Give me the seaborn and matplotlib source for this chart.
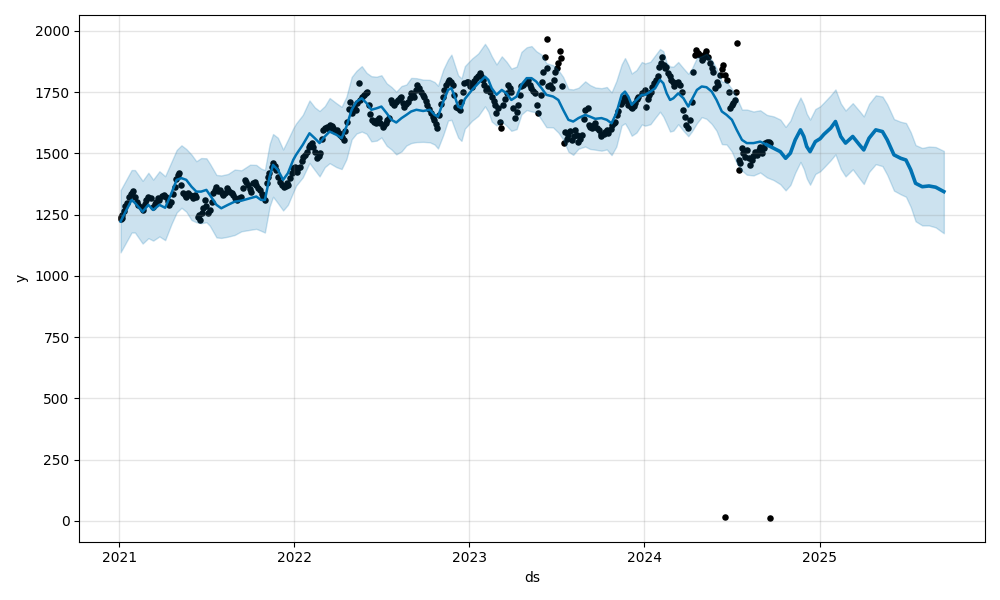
import matplotlib
matplotlib.use("Agg")
import matplotlib.pyplot as plt
import matplotlib.dates as mdates
from matplotlib.ticker import MultipleLocator
import pandas as pd
import seaborn as sns

# ---------------- observed data (ds, y) ----------------
obs_dates = [
    "2021-01-04", "2021-01-05", "2021-01-06", "2021-01-08", "2021-01-11", "2021-01-14", "2021-01-18", "2021-01-21",
    "2021-01-25", "2021-01-27", "2021-01-29", "2021-02-03", "2021-02-08", "2021-02-10", "2021-02-15", "2021-02-17",
    "2021-02-19", "2021-02-23", "2021-02-26", "2021-03-03", "2021-03-08", "2021-03-12", "2021-03-16", "2021-03-19",
    "2021-03-23", "2021-03-26", "2021-03-31", "2021-04-05", "2021-04-09", "2021-04-13", "2021-04-16", "2021-04-20",
    "2021-04-23", "2021-04-27", "2021-04-30", "2021-05-04", "2021-05-06", "2021-05-11", "2021-05-14", "2021-05-18",
    "2021-05-21", "2021-05-25", "2021-05-28", "2021-06-01", "2021-06-04", "2021-06-08", "2021-06-11", "2021-06-14",
    "2021-06-16", "2021-06-18", "2021-06-22", "2021-06-25", "2021-06-29", "2021-07-02", "2021-07-06", "2021-07-09",
    "2021-07-13", "2021-07-16", "2021-07-20", "2021-07-23", "2021-07-27", "2021-07-30", "2021-08-03", "2021-08-06",
    "2021-08-09", "2021-08-13", "2021-08-17", "2021-08-20", "2021-08-24", "2021-08-26", "2021-08-31", "2021-09-03",
    "2021-09-08", "2021-09-13", "2021-09-16", "2021-09-20", "2021-09-23", "2021-09-27", "2021-09-30", "2021-10-04",
    "2021-10-07", "2021-10-11", "2021-10-14", "2021-10-18", "2021-10-21", "2021-10-25", "2021-10-28", "2021-11-01",
    "2021-11-05", "2021-11-08", "2021-11-10", "2021-11-15", "2021-11-18", "2021-11-22", "2021-11-25", "2021-11-29",
    "2021-12-02", "2021-12-07", "2021-12-10", "2021-12-14", "2021-12-17", "2021-12-20", "2021-12-23", "2021-12-27",
    "2021-12-30",
    "2022-01-03", "2022-01-06", "2022-01-10", "2022-01-13", "2022-01-17", "2022-01-20", "2022-01-24", "2022-01-27",
    "2022-01-31", "2022-02-03", "2022-02-07", "2022-02-10", "2022-02-14", "2022-02-17", "2022-02-21", "2022-02-24",
    "2022-02-28", "2022-03-03", "2022-03-07", "2022-03-10", "2022-03-14", "2022-03-17", "2022-03-21", "2022-03-24",
    "2022-03-28", "2022-03-31", "2022-04-04", "2022-04-07", "2022-04-11", "2022-04-14", "2022-04-18", "2022-04-21",
    "2022-04-25", "2022-04-28", "2022-05-02", "2022-05-05", "2022-05-09", "2022-05-12", "2022-05-16", "2022-05-19",
    "2022-05-23", "2022-05-26", "2022-05-30", "2022-06-01", "2022-06-06", "2022-06-09", "2022-06-13", "2022-06-16",
    "2022-06-20", "2022-06-23", "2022-06-27", "2022-06-30", "2022-07-05", "2022-07-08", "2022-07-11", "2022-07-14",
    "2022-07-18", "2022-07-22", "2022-07-25", "2022-07-29", "2022-08-02", "2022-08-05", "2022-08-09", "2022-08-12",
    "2022-08-16", "2022-08-19", "2022-08-23", "2022-08-26", "2022-08-30", "2022-09-01", "2022-09-06", "2022-09-08",
    "2022-09-12", "2022-09-15", "2022-09-19", "2022-09-22", "2022-09-26", "2022-09-29", "2022-10-03", "2022-10-06",
    "2022-10-10", "2022-10-13", "2022-10-17", "2022-10-20", "2022-10-24", "2022-10-26", "2022-10-31", "2022-11-03",
    "2022-11-07", "2022-11-10", "2022-11-14", "2022-11-17", "2022-11-21", "2022-11-24", "2022-11-28", "2022-12-01",
    "2022-12-05", "2022-12-08", "2022-12-12", "2022-12-15", "2022-12-19", "2022-12-22", "2022-12-27", "2022-12-29",
    "2023-01-03", "2023-01-06", "2023-01-09", "2023-01-12", "2023-01-16", "2023-01-19", "2023-01-23", "2023-01-26",
    "2023-01-30", "2023-02-02", "2023-02-06", "2023-02-10", "2023-02-14", "2023-02-17", "2023-02-21", "2023-02-23",
    "2023-02-27", "2023-03-02", "2023-03-06", "2023-03-08", "2023-03-13", "2023-03-16", "2023-03-20", "2023-03-23",
    "2023-03-27", "2023-03-30", "2023-04-03", "2023-04-06", "2023-04-10", "2023-04-13", "2023-04-17", "2023-04-20",
    "2023-04-24", "2023-04-27", "2023-05-01", "2023-05-04", "2023-05-08", "2023-05-11", "2023-05-15", "2023-05-18",
    "2023-05-22", "2023-05-25", "2023-05-30", "2023-06-01", "2023-06-05", "2023-06-08", "2023-06-12", "2023-06-13",
    "2023-06-15", "2023-06-19", "2023-06-22", "2023-06-26", "2023-06-29", "2023-07-03", "2023-07-06", "2023-07-10",
    "2023-07-12", "2023-07-14", "2023-07-17", "2023-07-20", "2023-07-24", "2023-07-27", "2023-07-31", "2023-08-03",
    "2023-08-07", "2023-08-10", "2023-08-14", "2023-08-17", "2023-08-21", "2023-08-24", "2023-08-28", "2023-08-31",
    "2023-09-05", "2023-09-07", "2023-09-11", "2023-09-14", "2023-09-18", "2023-09-21", "2023-09-25", "2023-09-28",
    "2023-10-02", "2023-10-04", "2023-10-09", "2023-10-11", "2023-10-16", "2023-10-18", "2023-10-23", "2023-10-25",
    "2023-10-30", "2023-11-01", "2023-11-06", "2023-11-08", "2023-11-13", "2023-11-15", "2023-11-20", "2023-11-22",
    "2023-11-27", "2023-11-29", "2023-12-04", "2023-12-06", "2023-12-11", "2023-12-13", "2023-12-18", "2023-12-20",
    "2023-12-27",
    "2024-01-02", "2024-01-04", "2024-01-08", "2024-01-11", "2024-01-15", "2024-01-18", "2024-01-22", "2024-01-25",
    "2024-01-29", "2024-02-01", "2024-02-05", "2024-02-07", "2024-02-12", "2024-02-14", "2024-02-16", "2024-02-20",
    "2024-02-23", "2024-02-27", "2024-03-01", "2024-03-04", "2024-03-08", "2024-03-12", "2024-03-15", "2024-03-19",
    "2024-03-22", "2024-03-26", "2024-03-29", "2024-04-02", "2024-04-05", "2024-04-09", "2024-04-12", "2024-04-16",
    "2024-04-19", "2024-04-23", "2024-04-26", "2024-04-30", "2024-05-03", "2024-05-07", "2024-05-10", "2024-05-13",
    "2024-05-17", "2024-05-21", "2024-05-24", "2024-05-28", "2024-05-31", "2024-06-04", "2024-06-07", "2024-06-11",
    "2024-06-14", "2024-06-17", "2024-06-18", "2024-06-21", "2024-06-25", "2024-06-28", "2024-07-02", "2024-07-05",
    "2024-07-09", "2024-07-11", "2024-07-12", "2024-07-16", "2024-07-17", "2024-07-19", "2024-07-23", "2024-07-26",
    "2024-07-30", "2024-08-02", "2024-08-06", "2024-08-09", "2024-08-12", "2024-08-15", "2024-08-19", "2024-08-23",
    "2024-08-27", "2024-08-30", "2024-09-03", "2024-09-06", "2024-09-10", "2024-09-13", "2024-09-17", "2024-09-19",
    "2024-09-20",
]
obs_values = [
    1240, 1232, 1250, 1236, 1265, 1285, 1297, 1320,
    1335, 1340, 1345, 1324, 1300, 1290, 1282, 1276,
    1269, 1292, 1310, 1322, 1317, 1283, 1295, 1303,
    1318, 1310, 1326, 1331, 1324, 1305, 1290, 1300,
    1335, 1364, 1395, 1412, 1420, 1371, 1337, 1330,
    1324, 1340, 1331, 1325, 1317, 1330, 1324, 1242,
    1250, 1229, 1255, 1276, 1310, 1285, 1256, 1269,
    1300, 1337, 1350, 1364, 1345, 1351, 1340, 1330,
    1337, 1357, 1350, 1344, 1338, 1331, 1318, 1310,
    1318, 1324, 1360, 1392, 1385, 1371, 1355, 1344,
    1378, 1385, 1371, 1360, 1351, 1335, 1324, 1310,
    1380, 1405, 1419, 1445, 1460, 1450, 1433, 1405,
    1385, 1372, 1364, 1368, 1380, 1371, 1400, 1419,
    1440,
    1445, 1426, 1440, 1446, 1470, 1487, 1495, 1507,
    1525, 1535, 1542, 1525, 1507, 1480, 1490, 1501,
    1560, 1596, 1605, 1609, 1600, 1616, 1610, 1603,
    1590, 1596, 1585, 1576, 1565, 1555, 1590, 1630,
    1680, 1711, 1664, 1690, 1678, 1705, 1786, 1718,
    1730, 1739, 1745, 1752, 1698, 1660, 1637, 1630,
    1623, 1635, 1644, 1625, 1609, 1615, 1623, 1635,
    1644, 1718, 1705, 1698, 1710, 1718, 1725, 1732,
    1705, 1691, 1700, 1711, 1725, 1745, 1740, 1732,
    1760, 1780, 1765, 1752, 1740, 1732, 1715, 1698,
    1680, 1664, 1650, 1637, 1620, 1603, 1657, 1700,
    1732, 1760, 1780, 1792, 1800, 1790, 1780, 1740,
    1691, 1685, 1678, 1711, 1750, 1786, 1790, 1793,
    1776, 1770, 1786, 1795, 1807, 1815, 1827, 1815,
    1800, 1780, 1759, 1766, 1750, 1732, 1715, 1698,
    1664, 1684, 1630, 1603, 1698, 1720, 1745, 1780,
    1765, 1752, 1684, 1644, 1670, 1698, 1740, 1773,
    1780, 1786, 1795, 1800, 1780, 1766, 1755, 1745,
    1698, 1664, 1739, 1790, 1834, 1895, 1967, 1848,
    1773, 1780, 1766, 1800, 1834, 1850, 1868, 1916,
    1888, 1773, 1542, 1589, 1560, 1576, 1590, 1555,
    1570, 1596, 1575, 1548, 1560, 1576, 1640, 1678,
    1684, 1616, 1608, 1603, 1615, 1623, 1605, 1596,
    1580, 1569, 1578, 1589, 1595, 1582, 1600, 1616,
    1625, 1630, 1655, 1671, 1700, 1711, 1725, 1732,
    1712, 1698, 1690, 1684, 1695, 1705, 1720, 1732,
    1745,
    1759, 1691, 1720, 1740, 1752, 1770, 1786, 1800,
    1814, 1854, 1870, 1895, 1861, 1850, 1854, 1827,
    1815, 1800, 1790, 1773, 1786, 1790, 1780, 1752,
    1678, 1650, 1616, 1603, 1637, 1711, 1834, 1902,
    1922, 1910, 1902, 1880, 1888, 1905, 1916, 1895,
    1868, 1850, 1834, 1766, 1790, 1780, 1820, 1845,
    1861, 17, 1820, 1800, 1752, 1684, 1698, 1705,
    1718, 1752, 1952, 1473, 1433, 1460, 1521, 1500,
    1487, 1514, 1480, 1453, 1473, 1490, 1507, 1494,
    1515, 1528, 1501, 1520, 1542, 1548, 1548, 13,
    1542,
]

# ---------------- forecast (ds, yhat, yhat_lower, yhat_upper) ----------------
fc_dates = [
    "2021-01-04", "2021-01-27", "2021-02-03", "2021-02-19", "2021-03-03", "2021-03-13", "2021-03-26", "2021-04-07",
    "2021-04-20", "2021-05-01", "2021-05-11", "2021-05-21", "2021-06-01", "2021-06-11", "2021-06-21", "2021-07-02",
    "2021-07-09", "2021-07-23", "2021-08-02", "2021-08-16", "2021-08-30", "2021-09-13", "2021-10-01", "2021-10-14",
    "2021-10-24", "2021-11-01", "2021-11-11", "2021-11-18", "2021-11-28", "2021-12-09", "2021-12-19", "2021-12-30",
    "2022-01-05", "2022-01-19", "2022-02-02", "2022-02-13", "2022-02-23", "2022-03-06", "2022-03-16", "2022-03-30",
    "2022-04-10", "2022-04-20", "2022-05-01", "2022-05-11", "2022-05-22", "2022-06-01", "2022-06-11", "2022-06-22",
    "2022-07-02", "2022-07-13", "2022-07-23", "2022-08-02", "2022-08-13", "2022-08-23", "2022-09-02", "2022-09-13",
    "2022-09-27", "2022-10-11", "2022-10-21", "2022-10-28", "2022-11-08", "2022-11-18", "2022-11-25", "2022-12-02",
    "2022-12-09", "2022-12-16", "2022-12-23",
    "2023-01-07", "2023-01-20", "2023-02-03", "2023-02-10", "2023-02-17", "2023-02-27", "2023-03-10", "2023-03-20",
    "2023-03-30", "2023-04-10", "2023-04-20", "2023-05-01", "2023-05-11", "2023-05-21", "2023-06-01", "2023-06-11",
    "2023-06-25", "2023-07-06", "2023-07-16", "2023-07-27", "2023-08-06", "2023-08-17", "2023-08-31", "2023-09-10",
    "2023-09-21", "2023-10-04", "2023-10-15", "2023-10-25", "2023-11-04", "2023-11-15", "2023-11-22", "2023-11-29",
    "2023-12-06", "2023-12-16", "2023-12-27",
    "2024-01-03", "2024-01-14", "2024-01-24", "2024-02-03", "2024-02-10", "2024-02-17", "2024-02-24", "2024-03-02",
    "2024-03-12", "2024-03-23", "2024-04-02", "2024-04-09", "2024-04-20", "2024-04-30", "2024-05-10", "2024-05-21",
    "2024-05-31", "2024-06-11", "2024-06-21", "2024-07-02", "2024-07-12", "2024-07-23", "2024-08-02", "2024-08-16",
    "2024-08-30", "2024-09-13", "2024-09-27", "2024-10-11", "2024-10-22", "2024-11-01", "2024-11-11", "2024-11-22",
    "2024-11-29", "2024-12-05", "2024-12-12", "2024-12-23",
    "2025-01-02", "2025-01-10", "2025-01-24", "2025-02-03", "2025-02-14", "2025-02-24", "2025-03-11", "2025-03-25",
    "2025-04-03", "2025-04-14", "2025-04-28", "2025-05-12", "2025-05-22", "2025-06-05", "2025-06-19", "2025-06-30",
    "2025-07-10", "2025-07-20", "2025-08-03", "2025-08-17", "2025-08-31", "2025-09-17",
]
fc_yhat = [
    1222, 1310, 1298, 1262, 1290, 1269, 1290, 1278, 1337, 1392, 1399, 1392, 1364, 1344, 1344, 1351,
    1331, 1290, 1276, 1290, 1303, 1307, 1317, 1324, 1310, 1310, 1405, 1453, 1433, 1392, 1419, 1473,
    1494, 1535, 1582, 1562, 1542, 1569, 1589, 1576, 1562, 1609, 1678, 1711, 1725, 1705, 1678, 1684,
    1691, 1664, 1637, 1626, 1644, 1657, 1671, 1678, 1673, 1678, 1657, 1650, 1711, 1759, 1766, 1732,
    1691, 1684, 1722,
    1759, 1786, 1813, 1800, 1766, 1739, 1759, 1745, 1718, 1732, 1780, 1807, 1807, 1793, 1766, 1739,
    1732, 1718, 1678, 1637, 1630, 1644, 1657, 1650, 1641, 1644, 1637, 1623, 1664, 1739, 1752, 1732,
    1698, 1718, 1739,
    1739, 1752, 1766, 1800, 1786, 1745, 1718, 1725, 1745, 1725, 1691, 1718, 1759, 1773, 1770, 1752,
    1718, 1671, 1657, 1637, 1596, 1555, 1542, 1542, 1548, 1535, 1521, 1507, 1480, 1501, 1555, 1596,
    1569, 1528, 1507, 1548,
    1560, 1578, 1603, 1630, 1569, 1542, 1569, 1535, 1514, 1562, 1596, 1589, 1555, 1494, 1480, 1473,
    1433, 1378, 1364, 1367, 1362, 1344,
]
fc_upper = [
    1350, 1432, 1432, 1388, 1421, 1393, 1427, 1407, 1465, 1514, 1533, 1518, 1495, 1468, 1481, 1480,
    1459, 1412, 1410, 1416, 1434, 1431, 1454, 1453, 1438, 1432, 1539, 1579, 1564, 1516, 1556, 1602,
    1622, 1657, 1716, 1688, 1673, 1693, 1726, 1705, 1690, 1731, 1812, 1837, 1856, 1829, 1815, 1813,
    1819, 1786, 1771, 1752, 1775, 1781, 1808, 1807, 1801, 1800, 1791, 1776, 1842, 1883, 1903, 1861,
    1819, 1806, 1856,
    1887, 1908, 1947, 1926, 1897, 1863, 1896, 1874, 1846, 1854, 1914, 1933, 1938, 1917, 1903, 1868,
    1860, 1840, 1812, 1763, 1761, 1768, 1794, 1779, 1769, 1766, 1771, 1749, 1795, 1863, 1889, 1861,
    1826, 1840, 1873,
    1867, 1874, 1900, 1926, 1917, 1869, 1855, 1854, 1873, 1847, 1825, 1844, 1890, 1897, 1907, 1881,
    1846, 1793, 1791, 1763, 1727, 1679, 1679, 1671, 1676, 1657, 1651, 1638, 1608, 1634, 1684, 1728,
    1699, 1662, 1638, 1681,
    1692, 1708, 1737, 1761, 1704, 1675, 1705, 1673, 1651, 1702, 1737, 1732, 1700, 1640, 1629, 1624,
    1586, 1534, 1522, 1528, 1526, 1510,
]
fc_lower = [
    1096, 1177, 1177, 1132, 1154, 1144, 1161, 1146, 1211, 1259, 1278, 1262, 1228, 1219, 1215, 1219,
    1205, 1157, 1155, 1160, 1167, 1182, 1188, 1192, 1184, 1177, 1284, 1323, 1297, 1267, 1290, 1341,
    1368, 1402, 1461, 1432, 1406, 1444, 1460, 1444, 1436, 1476, 1557, 1581, 1589, 1580, 1549, 1552,
    1565, 1531, 1516, 1496, 1508, 1532, 1542, 1546, 1547, 1545, 1536, 1520, 1575, 1634, 1637, 1600,
    1565, 1551, 1601,
    1633, 1653, 1692, 1670, 1630, 1614, 1630, 1613, 1592, 1599, 1659, 1677, 1671, 1668, 1637, 1607,
    1606, 1585, 1557, 1507, 1494, 1519, 1528, 1518, 1515, 1511, 1516, 1493, 1528, 1614, 1623, 1600,
    1572, 1585, 1618,
    1613, 1619, 1645, 1670, 1650, 1620, 1589, 1593, 1619, 1592, 1570, 1588, 1623, 1648, 1641, 1620,
    1592, 1538, 1536, 1507, 1460, 1430, 1413, 1410, 1422, 1402, 1391, 1374, 1349, 1371, 1421, 1465,
    1436, 1398, 1372, 1416,
    1427, 1443, 1472, 1496, 1437, 1406, 1435, 1398, 1375, 1424, 1456, 1448, 1412, 1348, 1333, 1323,
    1281, 1223, 1206, 1206, 1198, 1174,
]

obs = pd.DataFrame({"ds": pd.to_datetime(obs_dates), "y": obs_values})
fc = pd.DataFrame({
    "ds": pd.to_datetime(fc_dates),
    "yhat": fc_yhat,
    "yhat_lower": fc_lower,
    "yhat_upper": fc_upper,
})

blue = "#0072B2"
fig, ax = plt.subplots(figsize=(10, 6), dpi=100)

sns.scatterplot(data=obs, x="ds", y="y", color="black", s=22, linewidth=0, ax=ax)

last_obs = obs["ds"].max()
hist = fc[fc["ds"] <= last_obs]
fut = fc[fc["ds"] >= hist["ds"].max()]
sns.lineplot(data=hist, x="ds", y="yhat", color=blue, linewidth=1.8, ax=ax)
sns.lineplot(data=fut, x="ds", y="yhat", color=blue, linewidth=2.6, ax=ax)
ax.fill_between(fc["ds"], fc["yhat_lower"], fc["yhat_upper"], color=blue, alpha=0.2)

ax.grid(True, which="major", color="gray", linestyle="-", linewidth=1, alpha=0.2)
ax.xaxis.set_major_locator(mdates.YearLocator())
ax.xaxis.set_major_formatter(mdates.DateFormatter("%Y"))
ax.yaxis.set_major_locator(MultipleLocator(250))
ax.set_xlabel("ds")
ax.set_ylabel("y")

fig.tight_layout()
fig.savefig("out.png", dpi=100)
